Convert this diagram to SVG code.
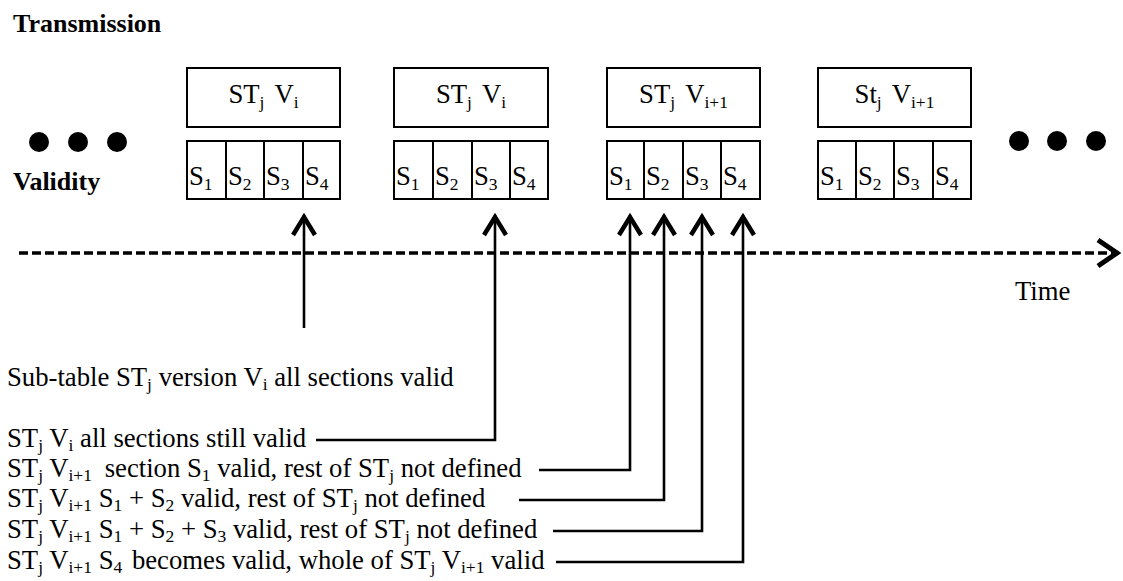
<svg xmlns="http://www.w3.org/2000/svg" width="1123" height="581" viewBox="0 0 1123 581">
<style>
text{font-family:"Liberation Serif","Times New Roman",serif;font-size:26.7px;fill:#000}
.b{font-weight:bold;font-size:26px}
.sub{font-size:17.5px}
.box{fill:#fff;stroke:#000;stroke-width:2}
.div{stroke:#000;stroke-width:2}
.ln{fill:none;stroke:#000;stroke-width:2.6}
.dash{fill:none;stroke:#000;stroke-width:3.5;stroke-dasharray:9 4}
.dot{fill:#000}
</style>
<defs>
<marker id="ah" viewBox="-30 -16 34 32" refX="0" refY="0" markerWidth="34" markerHeight="32" markerUnits="userSpaceOnUse" orient="auto" overflow="visible">
<path d="M-20,-11 L-2,0 L-20,11" fill="none" stroke="#000" stroke-width="4.5" stroke-linejoin="miter" stroke-miterlimit="10"/>
</marker>
<marker id="ah2" viewBox="-30 -18 34 36" refX="0" refY="0" markerWidth="34" markerHeight="36" markerUnits="userSpaceOnUse" orient="auto" overflow="visible">
<path d="M-21,-13 L-2,0 L-21,13" fill="none" stroke="#000" stroke-width="5" stroke-linejoin="miter" stroke-miterlimit="10"/>
</marker>
</defs>

<g id="labels">
<text class="b" x="13" y="32">Transmission</text>
<text class="b" x="13" y="190">Validity</text>
<text x="1015" y="300">Time</text>
</g>

<g id="dots-left">
<circle class="dot" cx="39" cy="142" r="10"/>
<circle class="dot" cx="78" cy="142" r="10"/>
<circle class="dot" cx="117" cy="142" r="10"/>
</g>
<g id="dots-right">
<circle class="dot" cx="1019" cy="141" r="10"/>
<circle class="dot" cx="1057" cy="141" r="10"/>
<circle class="dot" cx="1096" cy="141" r="10"/>
</g>

<g id="table1">
<rect class="box" x="187" y="68" width="153" height="59"/>
<text x="263.5" y="103" text-anchor="middle">ST<tspan class="sub" dy="5">j</tspan><tspan dy="-5" dx="10">V</tspan><tspan class="sub" dy="5">i</tspan></text>
<rect class="box" x="187" y="141" width="153" height="58"/>
<path class="div" d="M226,141V199M264,141V199M303,141V199"/>
<text x="189" y="185">S<tspan class="sub" dy="5">1</tspan></text>
<text x="228" y="185">S<tspan class="sub" dy="5">2</tspan></text>
<text x="266" y="185">S<tspan class="sub" dy="5">3</tspan></text>
<text x="305" y="185">S<tspan class="sub" dy="5">4</tspan></text>
</g>

<g id="table2">
<rect class="box" x="394" y="68" width="154" height="59"/>
<text x="471" y="103" text-anchor="middle">ST<tspan class="sub" dy="5">j</tspan><tspan dy="-5" dx="10">V</tspan><tspan class="sub" dy="5">i</tspan></text>
<rect class="box" x="394" y="141" width="154" height="58"/>
<path class="div" d="M433,141V199M472,141V199M510,141V199"/>
<text x="396" y="185">S<tspan class="sub" dy="5">1</tspan></text>
<text x="435" y="185">S<tspan class="sub" dy="5">2</tspan></text>
<text x="474" y="185">S<tspan class="sub" dy="5">3</tspan></text>
<text x="512" y="185">S<tspan class="sub" dy="5">4</tspan></text>
</g>

<g id="table3">
<rect class="box" x="607" y="68" width="153" height="59"/>
<text x="683.5" y="103" text-anchor="middle">ST<tspan class="sub" dy="5">j</tspan><tspan dy="-5" dx="10">V</tspan><tspan class="sub" dy="5">i+1</tspan></text>
<rect class="box" x="607" y="141" width="153" height="58"/>
<path class="div" d="M644,141V199M683,141V199M721,141V199"/>
<text x="609" y="185">S<tspan class="sub" dy="5">1</tspan></text>
<text x="646" y="185">S<tspan class="sub" dy="5">2</tspan></text>
<text x="685" y="185">S<tspan class="sub" dy="5">3</tspan></text>
<text x="723" y="185">S<tspan class="sub" dy="5">4</tspan></text>
</g>

<g id="table4">
<rect class="box" x="818" y="68" width="153" height="59"/>
<text x="894.5" y="103" text-anchor="middle">St<tspan class="sub" dy="5">j</tspan><tspan dy="-5" dx="10">V</tspan><tspan class="sub" dy="5">i+1</tspan></text>
<rect class="box" x="818" y="141" width="153" height="58"/>
<path class="div" d="M856,141V199M894,141V199M933,141V199"/>
<text x="820" y="185">S<tspan class="sub" dy="5">1</tspan></text>
<text x="858" y="185">S<tspan class="sub" dy="5">2</tspan></text>
<text x="896" y="185">S<tspan class="sub" dy="5">3</tspan></text>
<text x="935" y="185">S<tspan class="sub" dy="5">4</tspan></text>
</g>

<g id="notes">
<text x="7" y="386">Sub-table ST<tspan class="sub" dy="4">j</tspan><tspan dy="-4"> version V</tspan><tspan class="sub" dy="4">i</tspan><tspan dy="-4"> all sections valid</tspan></text>
<text x="7" y="447">ST<tspan class="sub" dy="4">j</tspan><tspan dy="-4"> V</tspan><tspan class="sub" dy="4">i</tspan><tspan dy="-4"> all sections still valid</tspan></text>
<text x="7" y="477">ST<tspan class="sub" dy="4">j</tspan><tspan dy="-4"> V</tspan><tspan class="sub" dy="4">i+1</tspan><tspan dy="-4" dx="6"> section S</tspan><tspan class="sub" dy="4">1</tspan><tspan dy="-4"> valid, rest of ST</tspan><tspan class="sub" dy="4">j</tspan><tspan dy="-4"> not defined</tspan></text>
<text x="7" y="507">ST<tspan class="sub" dy="4">j</tspan><tspan dy="-4"> V</tspan><tspan class="sub" dy="4">i+1</tspan><tspan dy="-4"> S</tspan><tspan class="sub" dy="4">1</tspan><tspan dy="-4"> + S</tspan><tspan class="sub" dy="4">2</tspan><tspan dy="-4"> valid, rest of ST</tspan><tspan class="sub" dy="4">j</tspan><tspan dy="-4"> not defined</tspan></text>
<text x="7" y="538">ST<tspan class="sub" dy="4">j</tspan><tspan dy="-4"> V</tspan><tspan class="sub" dy="4">i+1</tspan><tspan dy="-4"> S</tspan><tspan class="sub" dy="4">1</tspan><tspan dy="-4"> + S</tspan><tspan class="sub" dy="4">2</tspan><tspan dy="-4"> + S</tspan><tspan class="sub" dy="4">3</tspan><tspan dy="-4"> valid, rest of ST</tspan><tspan class="sub" dy="4">j</tspan><tspan dy="-4"> not defined</tspan></text>
<text x="7" y="569">ST<tspan class="sub" dy="4">j</tspan><tspan dy="-4"> V</tspan><tspan class="sub" dy="4">i+1</tspan><tspan dy="-4"> S</tspan><tspan class="sub" dy="4">4</tspan><tspan dy="-4" dx="3"> becomes valid, whole of ST</tspan><tspan class="sub" dy="4">j</tspan><tspan dy="-4"> V</tspan><tspan class="sub" dy="4">i+1</tspan><tspan dy="-4"> valid</tspan></text>
</g>

<g id="connectors">
<path class="dash" d="M19,253H1119" marker-end="url(#ah2)"/>
<path class="ln" d="M304,328V215" marker-end="url(#ah)"/>
<path class="ln" d="M316,440H495V215" marker-end="url(#ah)"/>
<path class="ln" d="M539,470H630V215" marker-end="url(#ah)"/>
<path class="ln" d="M519,500H664V215" marker-end="url(#ah)"/>
<path class="ln" d="M553,531H702V215" marker-end="url(#ah)"/>
<path class="ln" d="M556,562H743V215" marker-end="url(#ah)"/>
</g>
</svg>
